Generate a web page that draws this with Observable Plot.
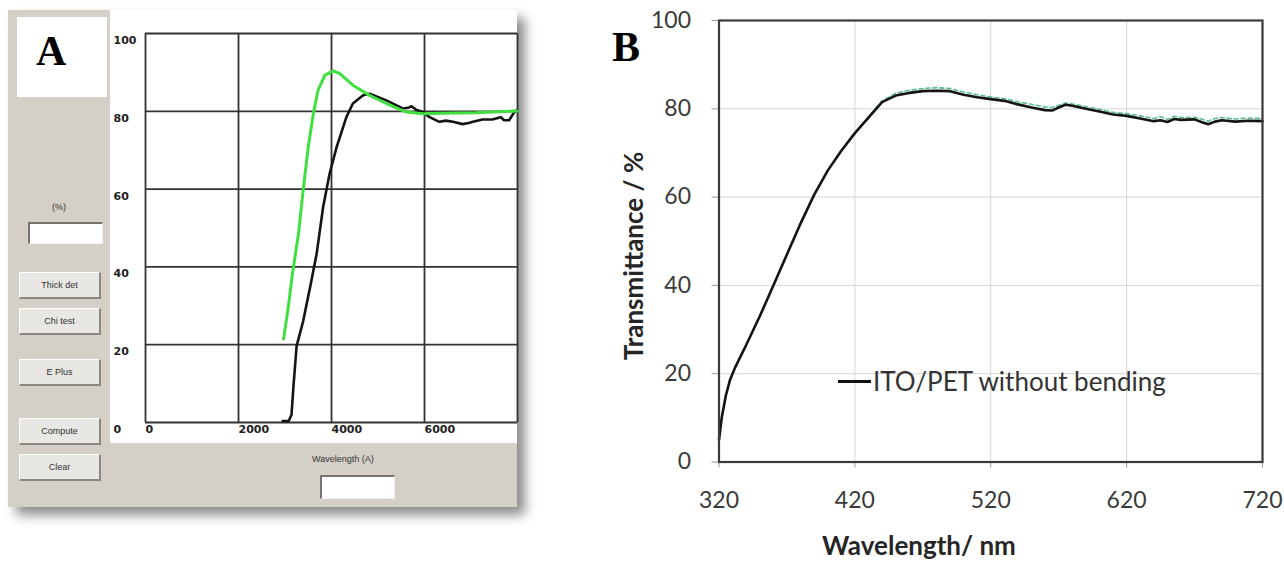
<!DOCTYPE html>
<html>
<head>
<meta charset="utf-8">
<script src="https://cdn.jsdelivr.net/npm/d3@7"></script>
<script src="https://cdn.jsdelivr.net/npm/@observablehq/plot@0.6"></script>
<style>
  html, body { margin: 0; padding: 0; background: #fff; overflow: hidden; }
  #root { position: relative; width: 1284px; height: 563px; background: #fff; }
  .abs { position: absolute; }
  .win { left: 8px; top: 10px; width: 509px; height: 497px; background: #d4d0c8;
         box-shadow: 8px 8px 11px rgba(0,0,0,0.45); }
  .chartA { left: 110px; top: 10px; }
  .boxA { left: 17px; top: 17px; width: 90px; height: 80px; background: #fff; }
  .letterA { left: 36px; top: 30px; font-family: "Liberation Serif", serif; font-weight: bold;
             font-size: 42px; color: #000; line-height: 1; }
  .btn { left: 19px; width: 79px; height: 24px; background: #e9e7e3;
         border-top: 1px solid #fff; border-left: 1px solid #fff;
         border-right: 2px solid #8a8782; border-bottom: 2px solid #8a8782;
         font-family: "Liberation Sans", sans-serif; font-size: 9px; color: #333;
         display: flex; align-items: center; justify-content: center; }
  .tbox { background: #fff; border-top: 2px solid #77746f; border-left: 2px solid #77746f;
          border-right: 1px solid #f4f3f0; border-bottom: 1px solid #f4f3f0; }
  .lbl { font-family: "Liberation Sans", sans-serif; font-size: 9px; color: #333; white-space: nowrap; }
  .chartB { left: 600px; top: 0px; }
  .letterB { left: 612px; top: 26px; font-family: "Liberation Serif", serif; font-weight: bold;
             font-size: 42px; color: #000; line-height: 1; }
  .xtitleB { left: 919px; top: 532px; transform: translateX(-50%); line-height: 1;
             font-family: Lato, sans-serif; font-weight: bold; font-size: 26px; color: #262626; white-space: nowrap; }
  .ytitleB { left: 633px; top: 256px; transform: translate(-50%, -50%) rotate(-90deg);
             font-family: Lato, sans-serif; font-weight: bold; font-size: 26px; color: #262626; white-space: nowrap; }
  .legB { left: 838px; top: 365px; display: flex; align-items: center;
          font-family: Lato, sans-serif; font-size: 26px; color: #333; white-space: nowrap; }
  .legB .sw { width: 33px; height: 3px; background: #111; margin-right: 2px; }
</style>
</head>
<body>
<div id="root">
  <div class="abs win"></div>
  <div class="abs boxA"></div>
  <div class="abs letterA">A</div>
  <div class="abs lbl" style="left:52px; top:202px;">(%)</div>
  <div class="abs tbox" style="left:28px; top:222px; width:72px; height:19px;"></div>
  <div class="abs btn" style="top:272px;">Thick det</div>
  <div class="abs btn" style="top:308px;">Chi test</div>
  <div class="abs btn" style="top:359px;">E Plus</div>
  <div class="abs btn" style="top:418px;">Compute</div>
  <div class="abs btn" style="top:454px;">Clear</div>
  <div class="abs lbl" style="left:312px; top:454px;">Wavelength (A)</div>
  <div class="abs tbox" style="left:320px; top:475px; width:72px; height:21px;"></div>
  <div class="abs chartA" id="chartA"></div>

  <div class="abs chartB" id="chartB"></div>
  <div class="abs letterB">B</div>
  <div class="abs xtitleB">Wavelength/ nm</div>
  <div class="abs ytitleB">Transmittance / %</div>
  <div class="abs legB"><span class="sw"></span><span>ITO/PET without bending</span></div>
</div>
<script>
// ---------- Panel A data (wavelength in Å, transmittance %) ----------
const aTicksX = [0, 2000, 4000, 6000];
const aGridX = [0, 2000, 4000, 6000, 8000];
const aTicksY = [0, 20, 40, 60, 80, 100];
const aBlackWl = [2950, 3080, 3140, 3180, 3250, 3390, 3540, 3680, 3820, 3960, 4110, 4320, 4460, 4680, 4820, 5180, 5540, 5650, 5720, 5820, 5960, 6110, 6320, 6460, 6610, 6820, 6950, 7040, 7250, 7460, 7640, 7710, 7820, 7930, 7990];
const aBlackT  = [0.4, 0.4, 2, 9, 19.7, 26, 34.8, 43.3, 55.4, 64, 70.8, 78.5, 82, 84.1, 84.5, 82.8, 80.7, 80.9, 81.3, 80.4, 79.8, 78.5, 77.3, 77.6, 77.3, 76.7, 77.0, 77.3, 77.9, 77.9, 78.5, 77.7, 77.7, 79.8, 80.3];
const aGreenWl = [2970, 3070, 3160, 3290, 3390, 3500, 3610, 3710, 3860, 4040, 4180, 4460, 4820, 5180, 5610, 5960, 6390, 7100, 7990];
const aGreenT  = [21.5, 29.6, 38.2, 48.5, 59.7, 70.8, 79.4, 85.4, 89.3, 90.4, 89.7, 86.7, 84.1, 82.0, 79.8, 79.4, 79.5, 79.6, 80.1];

// ---------- Panel B data (wavelength in nm, transmittance %) ----------
const bTicksX = [320, 420, 520, 620, 720];
const bTicksY = [0, 20, 40, 60, 80, 100];
const bWl = [320, 322, 325, 328, 332, 340, 350, 360, 370, 380, 390, 400, 410, 420, 430, 440, 450, 460, 470, 480, 490, 500, 510, 520, 530, 540, 550, 560, 565, 570, 575, 580, 590, 600, 610, 620, 630, 640, 645, 650, 655, 660, 670, 675, 680, 685, 690, 700, 710, 720];
const bBlackT = [5, 10, 15, 18.5, 21.5, 26.5, 33, 40, 47, 54, 60.5, 66, 70.5, 74.5, 78, 81.5, 83, 83.6, 84, 84.1, 84, 83.2, 82.6, 82.2, 81.8, 81.0, 80.3, 79.7, 79.6, 80.3, 80.9, 80.7, 80.0, 79.4, 78.7, 78.4, 77.8, 77.2, 77.4, 77.0, 77.7, 77.5, 77.6, 77.0, 76.5, 77.1, 77.4, 77.1, 77.3, 77.2];
const bGreenT = [5, 10, 15, 18.5, 21.5, 26.5, 33, 40, 47, 54, 60.5, 66, 70.5, 74.5, 78.2, 81.8, 83.5, 84.2, 84.6, 84.8, 84.6, 83.8, 83.2, 82.7, 82.3, 81.6, 81.0, 80.4, 80.3, 80.8, 81.3, 81.1, 80.5, 79.9, 79.2, 78.9, 78.4, 77.8, 78.2, 77.6, 78.3, 78.0, 78.1, 77.7, 77.2, 77.8, 78.0, 77.7, 77.9, 77.8];

const aBlack = aBlackWl.map((w, i) => ({w, t: aBlackT[i]}));
const aGreen = aGreenWl.map((w, i) => ({w, t: aGreenT[i]}));
const bBlack = bWl.map((w, i) => ({w, t: bBlackT[i]}));
const bGreen = bWl.map((w, i) => ({w, t: bGreenT[i]}));

const plotA = Plot.plot({
  width: 407, height: 433,
  marginLeft: 35, marginRight: 0, marginTop: 23, marginBottom: 21,
  x: {domain: [0, 8000], axis: null},
  y: {domain: [0, 100], axis: null},
  style: {background: "#fff", fontFamily: "DejaVu Sans", fontSize: "11px", color: "#222", overflow: "visible"},
  marks: [
    Plot.gridX(aGridX, {stroke: "#333", strokeOpacity: 1, strokeWidth: 1.8}),
    Plot.gridY(aTicksY, {stroke: "#333", strokeOpacity: 1, strokeWidth: 1.8}),
    Plot.line(aBlack, {x: "w", y: "t", stroke: "#141414", strokeWidth: 2.6}),
    Plot.line(aGreen, {x: "w", y: "t", stroke: "#3fe03f", strokeWidth: 3}),
    Plot.text(aTicksX, {x: d => d, y: 0, text: d => String(d), textAnchor: "start", dx: 0, dy: 7, fontWeight: "bold", fill: "#222"}),
    Plot.text(aTicksY, {x: 0, y: d => d, text: d => String(d), textAnchor: "start", dx: -32, dy: 7, fontWeight: "bold", fill: "#222"})
  ]
});
document.getElementById("chartA").appendChild(plotA);

const plotB = Plot.plot({
  width: 684, height: 563,
  marginLeft: 118.5, marginRight: 22, marginTop: 20, marginBottom: 101.5,
  x: {domain: [320, 720]},
  y: {domain: [0, 100]},
  style: {background: "transparent", fontFamily: "Lato", fontSize: "23px", color: "#3a3a3a", overflow: "visible"},
  marks: [
    Plot.gridX(bTicksX, {stroke: "#d6d6d6", strokeOpacity: 1, strokeWidth: 1}),
    Plot.gridY(bTicksY, {stroke: "#d6d6d6", strokeOpacity: 1, strokeWidth: 1}),
    Plot.axisX(bTicksX, {tickSize: 6, tickPadding: 24, stroke: "#9a9a9a", fill: "#3a3a3a", label: null}),
    Plot.axisY(bTicksY, {tickSize: 7, tickPadding: 21, stroke: "#9a9a9a", fill: "#3a3a3a", label: null}),
    Plot.line(bGreen, {x: "w", y: "t", stroke: "#5cbf90", strokeWidth: 1.6, strokeDasharray: "4,3"}),
    Plot.line(bBlack, {x: "w", y: "t", stroke: "#141414", strokeWidth: 2.6}),
    Plot.frame({stroke: "#3a3a3a", strokeWidth: 2.2})
  ]
});
document.getElementById("chartB").appendChild(plotB);
</script>
</body>
</html>
